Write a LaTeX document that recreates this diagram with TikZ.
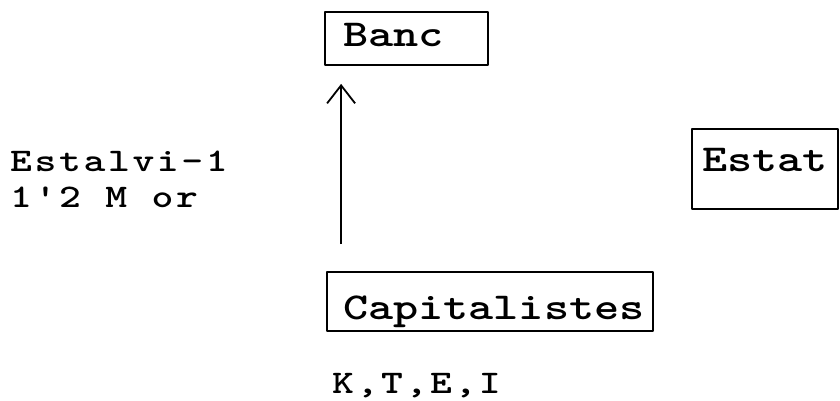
\documentclass[tikz,border=0pt]{standalone}
\usepackage{fontspec}
\newfontfamily\typed{Latin Modern Mono Light}[FakeStretch=1.26]
\usetikzlibrary{arrows.meta}
\begin{document}
\begin{tikzpicture}[>={Straight Barb[length=18bp,width=28bp]},line join=bevel,
  box/.style={draw,line width=1.8bp,inner ysep=0pt,align=left,text height=20bp,
    font=\typed\bfseries\fontsize{38bp}{40bp}\selectfont},
  typed text/.style={inner sep=0pt,align=left,
    font=\typed\bfseries\addfontfeature{LetterSpace=8}\fontsize{33bp}{36bp}\selectfont}]
\useasboundingbox (0,0) rectangle (840bp,401bp);
%%
\node (banc) at (406.5bp,362.5bp) [box,inner xsep=18bp,text width=127bp,minimum height=53bp,text depth=3bp] {Banc};
  \node (estat) at (765bp,232bp) [box,inner xsep=10bp,text width=126bp,minimum height=80bp,text depth=14bp] {Estat};
  \node (capitalistes) at (490bp,99.5bp) [box,inner xsep=16bp,text width=294bp,minimum height=59bp,text height=37bp,text depth=0bp] {Capitalistes};
  \node (estalvi) at (10bp,250bp) [typed text,anchor=north west] {Estalvi-1\\1'2 M or};
  \node (ktei) at (332bp,8bp) [typed text,anchor=base west] {K,T,E,I};
  \draw [black,line width=1.8bp,->] ([xshift=15bp,yshift=27bp]capitalistes.north west) -- ([xshift=17bp,yshift=-18bp]banc.south west);
%
\end{tikzpicture}
\end{document}
